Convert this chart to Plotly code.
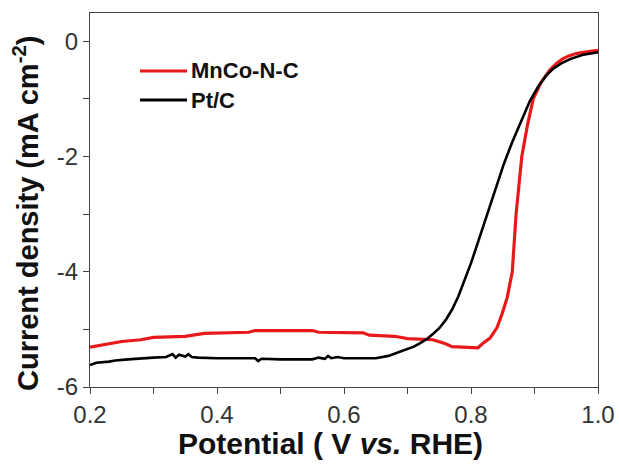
import plotly.graph_objects as go

# MnCo-N-C (red)
mnco_x = [0.20, 0.22, 0.25, 0.28, 0.30, 0.35, 0.38, 0.45, 0.46, 0.55, 0.56, 0.63, 0.64, 0.68, 0.70,
          0.74, 0.76, 0.77, 0.811, 0.820, 0.830, 0.841, 0.849, 0.857, 0.865, 0.871, 0.880, 0.889, 0.898,
          0.910, 0.924, 0.935, 0.945, 0.955, 0.967, 0.985, 1.00]
mnco_y = [-5.31, -5.27, -5.21, -5.18, -5.14, -5.12, -5.07, -5.05, -5.02, -5.02, -5.05, -5.06, -5.10, -5.12, -5.16,
          -5.18, -5.25, -5.30, -5.32, -5.23, -5.15, -4.97, -4.73, -4.45, -4.00, -3.00, -2.00, -1.45, -1.00,
          -0.72, -0.50, -0.38, -0.30, -0.25, -0.21, -0.18, -0.16]

# Pt/C (black)
ptc_x = [0.20, 0.21, 0.23, 0.24, 0.26, 0.28, 0.30, 0.32, 0.33, 0.335, 0.34, 0.35, 0.355, 0.36, 0.37, 0.40,
         0.45, 0.46, 0.465, 0.47, 0.50, 0.55, 0.56, 0.57, 0.575, 0.58, 0.59, 0.60, 0.65, 0.67, 0.69, 0.71,
         0.72, 0.73, 0.74, 0.75, 0.76, 0.77, 0.78, 0.79, 0.80, 0.81, 0.82, 0.83, 0.84, 0.852, 0.865,
         0.878, 0.893, 0.905, 0.918, 0.930, 0.943, 0.956, 0.975, 1.00]
ptc_y = [-5.62, -5.58, -5.56, -5.54, -5.52, -5.50, -5.49, -5.48, -5.43, -5.49, -5.44, -5.47, -5.43, -5.48, -5.49, -5.50,
         -5.51, -5.50, -5.55, -5.51, -5.52, -5.52, -5.49, -5.51, -5.46, -5.50, -5.48, -5.50, -5.50, -5.46, -5.38, -5.30,
         -5.24, -5.17, -5.08, -4.98, -4.84, -4.66, -4.43, -4.15, -3.85, -3.52, -3.18, -2.85, -2.53, -2.12, -1.75,
         -1.40, -1.03, -0.80, -0.60, -0.47, -0.38, -0.31, -0.24, -0.19]

x_ticks = [0.2, 0.4, 0.6, 0.8, 1.0]
x_tick_labels = ["0.2", "0.4", "0.6", "0.8", "1.0"]
y_ticks = [0, -2, -4, -6]
y_tick_labels = ["0", "-2", "-4", "-6"]

series_names = ["MnCo-N-C", "Pt/C"]
series_colors = ["#e8191b", "#000000"]

FONT = "Arial, Liberation Sans, sans-serif"

fig = go.Figure()
fig.add_trace(go.Scatter(x=mnco_x, y=mnco_y, mode="lines", name=series_names[0],
                         line=dict(color=series_colors[0], width=3.2), showlegend=False))
fig.add_trace(go.Scatter(x=ptc_x, y=ptc_y, mode="lines", name=series_names[1],
                         line=dict(color=series_colors[1], width=2.6), showlegend=False))

axis_common = dict(showline=True, linecolor="#444444", linewidth=1.3, mirror=True,
                   ticks="outside", ticklen=6, tickwidth=1.2, tickcolor="#444444",
                   showgrid=False, zeroline=False, automargin=False,
                   tickfont=dict(family=FONT, size=24, color="#333333"))

fig.update_xaxes(range=[0.2, 1.0], tickvals=x_ticks, ticktext=x_tick_labels,
                 minor=dict(ticks="outside", ticklen=6, tickwidth=1.2, tickcolor="#444444", dtick=0.1, tick0=0.2),
                 **axis_common)
fig.update_yaxes(range=[-6, 0.49], tickvals=y_ticks, ticktext=y_tick_labels,
                 minor=dict(ticks="outside", ticklen=6, tickwidth=1.2, tickcolor="#444444", dtick=1, tick0=0),
                 **axis_common)

annotations = [
    dict(text="<b>Potential ( V <i>vs.</i> RHE)</b>", xref="paper", yref="paper",
         x=(330 - 90) / 508, y=(387 - 443) / 374, xanchor="center", yanchor="middle",
         showarrow=False, font=dict(family=FONT, size=30, color="#111111")),
    dict(text="<b>Current density (mA cm<sup>-2</sup>)</b>", xref="paper", yref="paper",
         x=(26 - 90) / 508, y=(387 - 214) / 374, xanchor="center", yanchor="middle", textangle=-90,
         showarrow=False, font=dict(family=FONT, size=29, color="#111111")),
]
shapes = []
legend_rows_px = [71, 100]
for name, color, ypx in zip(series_names, series_colors, legend_rows_px):
    yp = (387 - ypx) / 374
    shapes.append(dict(type="line", xref="paper", yref="paper",
                       x0=(140 - 90) / 508, x1=(187 - 90) / 508, y0=yp, y1=yp,
                       line=dict(color=color, width=3.2)))
    annotations.append(dict(text="<b>" + name + "</b>", xref="paper", yref="paper",
                            x=(189 - 90) / 508, y=yp, xanchor="left", yanchor="middle",
                            showarrow=False, font=dict(family=FONT, size=22, color="#111111")))

fig.update_layout(
    width=619, height=466,
    margin=dict(l=90, r=21, t=13, b=79),
    paper_bgcolor="white", plot_bgcolor="white",
    font=dict(family=FONT),
    annotations=annotations, shapes=shapes,
)

fig.write_html("out.html")
